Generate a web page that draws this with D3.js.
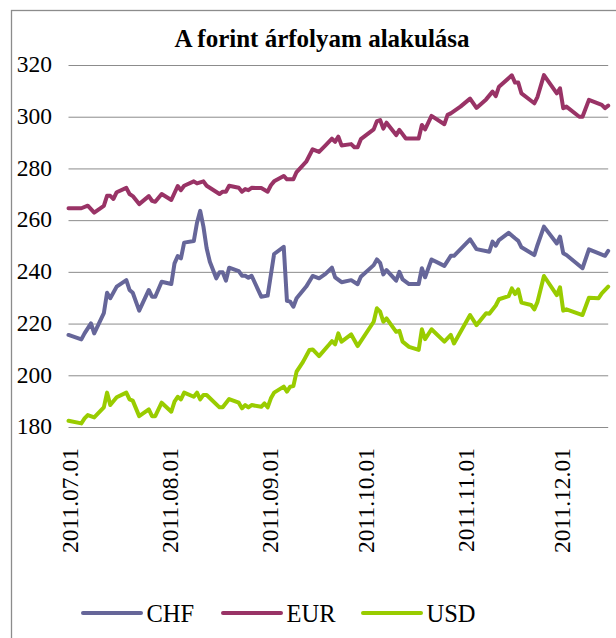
<!DOCTYPE html>
<html>
<head>
    <meta charset="utf-8">
    <script src="https://d3js.org/d3.v7.min.js"></script>
    <title>A forint árfolyam alakulása</title>
    <style>
      body { margin: 0; background: #fff; }
    </style>
</head>
<body>
    <svg id="chart" width="616" height="638"></svg>

    <script>
    // ---- data ----
    const seriesNames = ["CHF", "EUR", "USD"];
    const seriesColors = ["#666699", "#993366", "#99cc00"];
    const yTicks = [180, 200, 220, 240, 260, 280, 300, 320];
    const xTickDates = ["2011-07-01", "2011-08-01", "2011-09-01", "2011-10-01", "2011-11-01", "2011-12-01"];
    const dateRange = ["2011-07-01", "2011-12-16"];

    const chf = [
      ["2011-07-01", 215.6], ["2011-07-05", 213.9], ["2011-07-06", 216.2], ["2011-07-08", 220.1],
      ["2011-07-09", 216.2], ["2011-07-12", 224.0], ["2011-07-13", 231.9], ["2011-07-14", 229.8],
      ["2011-07-16", 234.3], ["2011-07-19", 236.8], ["2011-07-20", 233.0], ["2011-07-21", 231.9],
      ["2011-07-23", 225.0], ["2011-07-26", 233.0], ["2011-07-27", 230.4], ["2011-07-28", 230.4],
      ["2011-07-30", 236.2], ["2011-08-02", 235.3], ["2011-08-03", 243.3], ["2011-08-04", 246.1],
      ["2011-08-05", 245.2], ["2011-08-06", 251.3], ["2011-08-09", 251.9], ["2011-08-10", 259.0],
      ["2011-08-11", 263.6], ["2011-08-12", 257.5], ["2011-08-13", 249.1], ["2011-08-14", 243.9],
      ["2011-08-16", 237.5], ["2011-08-17", 239.8], ["2011-08-18", 239.8], ["2011-08-19", 236.6],
      ["2011-08-20", 241.6], ["2011-08-23", 240.3], ["2011-08-24", 238.5], ["2011-08-25", 238.5],
      ["2011-08-26", 237.7], ["2011-08-27", 238.5], ["2011-08-30", 230.4], ["2011-09-01", 230.8],
      ["2011-09-03", 246.9], ["2011-09-06", 249.7], ["2011-09-07", 228.8], ["2011-09-08", 228.5],
      ["2011-09-09", 226.5], ["2011-09-10", 229.8], ["2011-09-13", 234.3], ["2011-09-15", 238.4],
      ["2011-09-17", 237.5], ["2011-09-19", 239.2], ["2011-09-21", 241.6], ["2011-09-22", 237.9],
      ["2011-09-24", 236.0], ["2011-09-27", 236.8], ["2011-09-29", 235.2], ["2011-09-30", 238.1],
      ["2011-10-04", 242.6], ["2011-10-05", 244.8], ["2011-10-06", 243.5], ["2011-10-07", 239.0],
      ["2011-10-08", 240.7], ["2011-10-11", 236.6], ["2011-10-12", 240.0], ["2011-10-13", 237.1],
      ["2011-10-15", 235.3], ["2011-10-18", 235.3], ["2011-10-19", 241.4], ["2011-10-20", 237.9],
      ["2011-10-22", 244.8], ["2011-10-26", 242.3], ["2011-10-28", 246.2], ["2011-10-29", 246.2],
      ["2011-11-03", 252.6], ["2011-11-05", 248.8], ["2011-11-09", 247.8], ["2011-11-10", 251.7],
      ["2011-11-11", 250.1], ["2011-11-12", 252.3], ["2011-11-15", 255.1], ["2011-11-17", 253.0],
      ["2011-11-18", 252.0], ["2011-11-19", 249.5], ["2011-11-23", 246.5], ["2011-11-24", 250.4],
      ["2011-11-26", 257.5], ["2011-11-30", 251.0], ["2011-12-01", 253.6], ["2011-12-02", 247.2],
      ["2011-12-03", 246.5], ["2011-12-08", 241.4], ["2011-12-10", 248.7], ["2011-12-15", 246.2],
      ["2011-12-16", 248.1]
    ];

    const eur = [
      ["2011-07-01", 264.6], ["2011-07-05", 264.6], ["2011-07-07", 265.6], ["2011-07-09", 262.9],
      ["2011-07-12", 265.5], ["2011-07-13", 269.4], ["2011-07-14", 269.4], ["2011-07-15", 268.2],
      ["2011-07-16", 270.8], ["2011-07-19", 272.5], ["2011-07-20", 270.1], ["2011-07-21", 269.3],
      ["2011-07-23", 266.2], ["2011-07-26", 269.3], ["2011-07-27", 267.5], ["2011-07-28", 267.1],
      ["2011-07-30", 270.1], ["2011-08-02", 267.8], ["2011-08-04", 273.2], ["2011-08-05", 271.6],
      ["2011-08-06", 273.3], ["2011-08-09", 275.0], ["2011-08-10", 274.2], ["2011-08-12", 275.0],
      ["2011-08-13", 273.3], ["2011-08-17", 270.1], ["2011-08-18", 271.0], ["2011-08-19", 271.0],
      ["2011-08-20", 273.3], ["2011-08-23", 272.5], ["2011-08-24", 271.0], ["2011-08-25", 272.0],
      ["2011-08-26", 271.6], ["2011-08-27", 272.5], ["2011-08-30", 272.4], ["2011-09-01", 271.0],
      ["2011-09-02", 273.5], ["2011-09-03", 275.0], ["2011-09-06", 277.1], ["2011-09-07", 275.8],
      ["2011-09-09", 275.8], ["2011-09-10", 278.6], ["2011-09-13", 282.6], ["2011-09-15", 287.4],
      ["2011-09-17", 286.4], ["2011-09-19", 288.9], ["2011-09-21", 291.5], ["2011-09-22", 290.3],
      ["2011-09-23", 292.3], ["2011-09-24", 288.9], ["2011-09-27", 289.4], ["2011-09-28", 288.2],
      ["2011-09-29", 288.2], ["2011-09-30", 291.3], ["2011-10-04", 295.1], ["2011-10-05", 298.3],
      ["2011-10-06", 298.7], ["2011-10-07", 295.4], ["2011-10-08", 297.7], ["2011-10-11", 292.9],
      ["2011-10-12", 294.9], ["2011-10-14", 291.6], ["2011-10-18", 291.6], ["2011-10-19", 296.8],
      ["2011-10-20", 295.1], ["2011-10-22", 300.3], ["2011-10-26", 297.1], ["2011-10-27", 300.7],
      ["2011-10-28", 301.3], ["2011-10-31", 303.9], ["2011-11-03", 307.0], ["2011-11-05", 303.4],
      ["2011-11-08", 306.7], ["2011-11-10", 309.7], ["2011-11-11", 308.0], ["2011-11-12", 311.6],
      ["2011-11-16", 316.0], ["2011-11-17", 313.2], ["2011-11-18", 313.2], ["2011-11-19", 309.0],
      ["2011-11-23", 305.2], ["2011-11-24", 307.7], ["2011-11-26", 316.1], ["2011-11-30", 309.0],
      ["2011-12-01", 311.0], ["2011-12-02", 303.3], ["2011-12-03", 303.9], ["2011-12-07", 300.0],
      ["2011-12-08", 300.0], ["2011-12-10", 306.5], ["2011-12-14", 304.6], ["2011-12-15", 303.3],
      ["2011-12-16", 304.3]
    ];

    const usd = [
      ["2011-07-01", 182.4], ["2011-07-05", 181.4], ["2011-07-06", 183.3], ["2011-07-07", 184.6],
      ["2011-07-09", 183.7], ["2011-07-12", 187.6], ["2011-07-13", 193.3], ["2011-07-14", 188.5],
      ["2011-07-16", 191.5], ["2011-07-19", 193.3], ["2011-07-20", 190.7], ["2011-07-21", 190.2],
      ["2011-07-23", 184.2], ["2011-07-26", 186.8], ["2011-07-27", 184.2], ["2011-07-28", 184.2],
      ["2011-07-30", 189.4], ["2011-08-02", 185.9], ["2011-08-03", 189.8], ["2011-08-04", 191.7],
      ["2011-08-05", 190.7], ["2011-08-06", 193.3], ["2011-08-09", 191.7], ["2011-08-10", 193.3],
      ["2011-08-11", 190.7], ["2011-08-12", 192.4], ["2011-08-13", 192.4], ["2011-08-17", 187.6],
      ["2011-08-18", 187.6], ["2011-08-20", 190.8], ["2011-08-23", 189.4], ["2011-08-24", 187.2],
      ["2011-08-25", 188.5], ["2011-08-26", 187.6], ["2011-08-27", 188.5], ["2011-08-30", 187.8],
      ["2011-08-31", 189.1], ["2011-09-01", 187.6], ["2011-09-02", 191.1], ["2011-09-03", 193.3],
      ["2011-09-06", 195.6], ["2011-09-07", 193.7], ["2011-09-08", 195.6], ["2011-09-09", 195.8],
      ["2011-09-10", 201.4], ["2011-09-12", 205.2], ["2011-09-14", 209.8], ["2011-09-15", 210.0],
      ["2011-09-17", 207.4], ["2011-09-20", 211.7], ["2011-09-21", 213.2], ["2011-09-22", 212.0],
      ["2011-09-23", 216.2], ["2011-09-24", 213.0], ["2011-09-27", 215.8], ["2011-09-29", 211.3],
      ["2011-10-04", 220.7], ["2011-10-05", 225.9], ["2011-10-06", 224.6], ["2011-10-07", 220.7],
      ["2011-10-08", 222.0], ["2011-10-11", 216.8], ["2011-10-12", 217.2], ["2011-10-13", 213.0],
      ["2011-10-15", 211.0], ["2011-10-18", 209.8], ["2011-10-19", 217.8], ["2011-10-20", 214.0],
      ["2011-10-22", 217.8], ["2011-10-26", 213.0], ["2011-10-28", 215.6], ["2011-10-29", 212.3],
      ["2011-11-03", 223.3], ["2011-11-05", 219.4], ["2011-11-08", 224.0], ["2011-11-09", 223.8],
      ["2011-11-11", 227.0], ["2011-11-12", 229.4], ["2011-11-15", 230.6], ["2011-11-16", 233.6],
      ["2011-11-17", 231.4], ["2011-11-18", 233.2], ["2011-11-19", 228.1], ["2011-11-22", 227.2],
      ["2011-11-23", 225.5], ["2011-11-24", 228.4], ["2011-11-26", 238.4], ["2011-11-30", 231.0],
      ["2011-12-01", 234.0], ["2011-12-02", 225.0], ["2011-12-03", 225.5], ["2011-12-08", 223.3],
      ["2011-12-10", 230.0], ["2011-12-13", 229.8], ["2011-12-14", 231.7], ["2011-12-16", 234.3]
    ];

    const allSeries = [chf, eur, usd];

    // ---- layout ----
    const serif = "'Liberation Serif'";
    const svg = d3.select("svg#chart");
    const plot = {"left": 68.5, "right": 608.2, "top": 65, "bottom": 427};

    const parseDate = d3.utcParse("%Y-%m-%d");
    const formatTick = d3.utcFormat("%Y.%m.%d");

    const x = d3.scaleUtc()
                .domain(dateRange.map(parseDate))
                .range([plot.left, plot.right]);
    const y = d3.scaleLinear()
                .domain([180, 320])
                .range([plot.bottom, plot.top]);

    // outer frame (right and bottom edges fall outside the picture)
    svg.append("rect")
       .attr("x", 11.5)
       .attr("y", 10.5)
       .attr("width", 640)
       .attr("height", 660)
       .attr("fill", "none")
       .attr("stroke", "#8c8c8c")
       .attr("stroke-width", 1.3);

    // title
    svg.append("text")
       .attr("x", 322)
       .attr("y", 47)
       .attr("text-anchor", "middle")
       .style("font-family", serif)
       .style("font-size", "25px")
       .style("font-weight", "bold")
       .style("fill", "#000")
       .text("A forint árfolyam alakulása");

    // y axis with horizontal gridlines
    const yAxis = svg.append("g")
                     .attr("transform", `translate(${plot.left},0)`)
                     .call(d3.axisLeft(y)
                             .tickValues(yTicks)
                             .tickSize(-(plot.right - plot.left))
                             .tickPadding(16.5)
                             .tickFormat(d3.format("d")));
    yAxis.attr("font-family", null);
    yAxis.select(".domain").remove();
    yAxis.selectAll(".tick line")
         .attr("stroke", "#8c8c8c")
         .attr("stroke-width", 1);
    yAxis.selectAll(".tick text")
         .style("font-family", serif)
         .style("font-size", "23.5px")
         .style("fill", "#000")
         .attr("dy", "0.29em");

    // x axis: rotated date labels, no tick marks
    const xAxis = svg.append("g")
                     .attr("transform", `translate(0,${plot.bottom})`)
                     .call(d3.axisBottom(x)
                             .tickValues(xTickDates.map(parseDate))
                             .tickSize(0)
                             .tickFormat(formatTick));
    xAxis.attr("font-family", null);
    xAxis.select(".domain").remove();
    xAxis.selectAll(".tick text")
         .style("font-family", serif)
         .style("font-size", "23.5px")
         .style("fill", "#000")
         .attr("text-anchor", "end")
         .attr("transform", "translate(0,21) rotate(-90)")
         .attr("x", 0)
         .attr("y", 0)
         .attr("dy", "0.4em");

    // series lines
    const line = d3.line()
                   .x(d => x(parseDate(d[0])))
                   .y(d => y(d[1]));

    allSeries.forEach((s, i) => {
        svg.append("path")
           .datum(s)
           .attr("d", line)
           .attr("fill", "none")
           .attr("stroke", seriesColors[i])
           .attr("stroke-width", 4)
           .attr("stroke-linejoin", "round")
           .attr("stroke-linecap", "round");
    });

    // legend
    const legend = svg.append("g").attr("transform", "translate(83,613)");
    seriesNames.forEach((name, i) => {
        const item = legend.append("g").attr("transform", `translate(${i * 140},0)`);
        item.append("line")
            .attr("x1", 0).attr("x2", 58)
            .attr("y1", 0).attr("y2", 0)
            .attr("stroke", seriesColors[i])
            .attr("stroke-width", 4)
            .attr("stroke-linecap", "round");
        item.append("text")
            .attr("x", 63.5)
            .attr("y", 9)
            .style("font-family", serif)
            .style("font-size", "24.5px")
            .style("fill", "#000")
            .text(name);
    });
    </script>
</body>
</html>
